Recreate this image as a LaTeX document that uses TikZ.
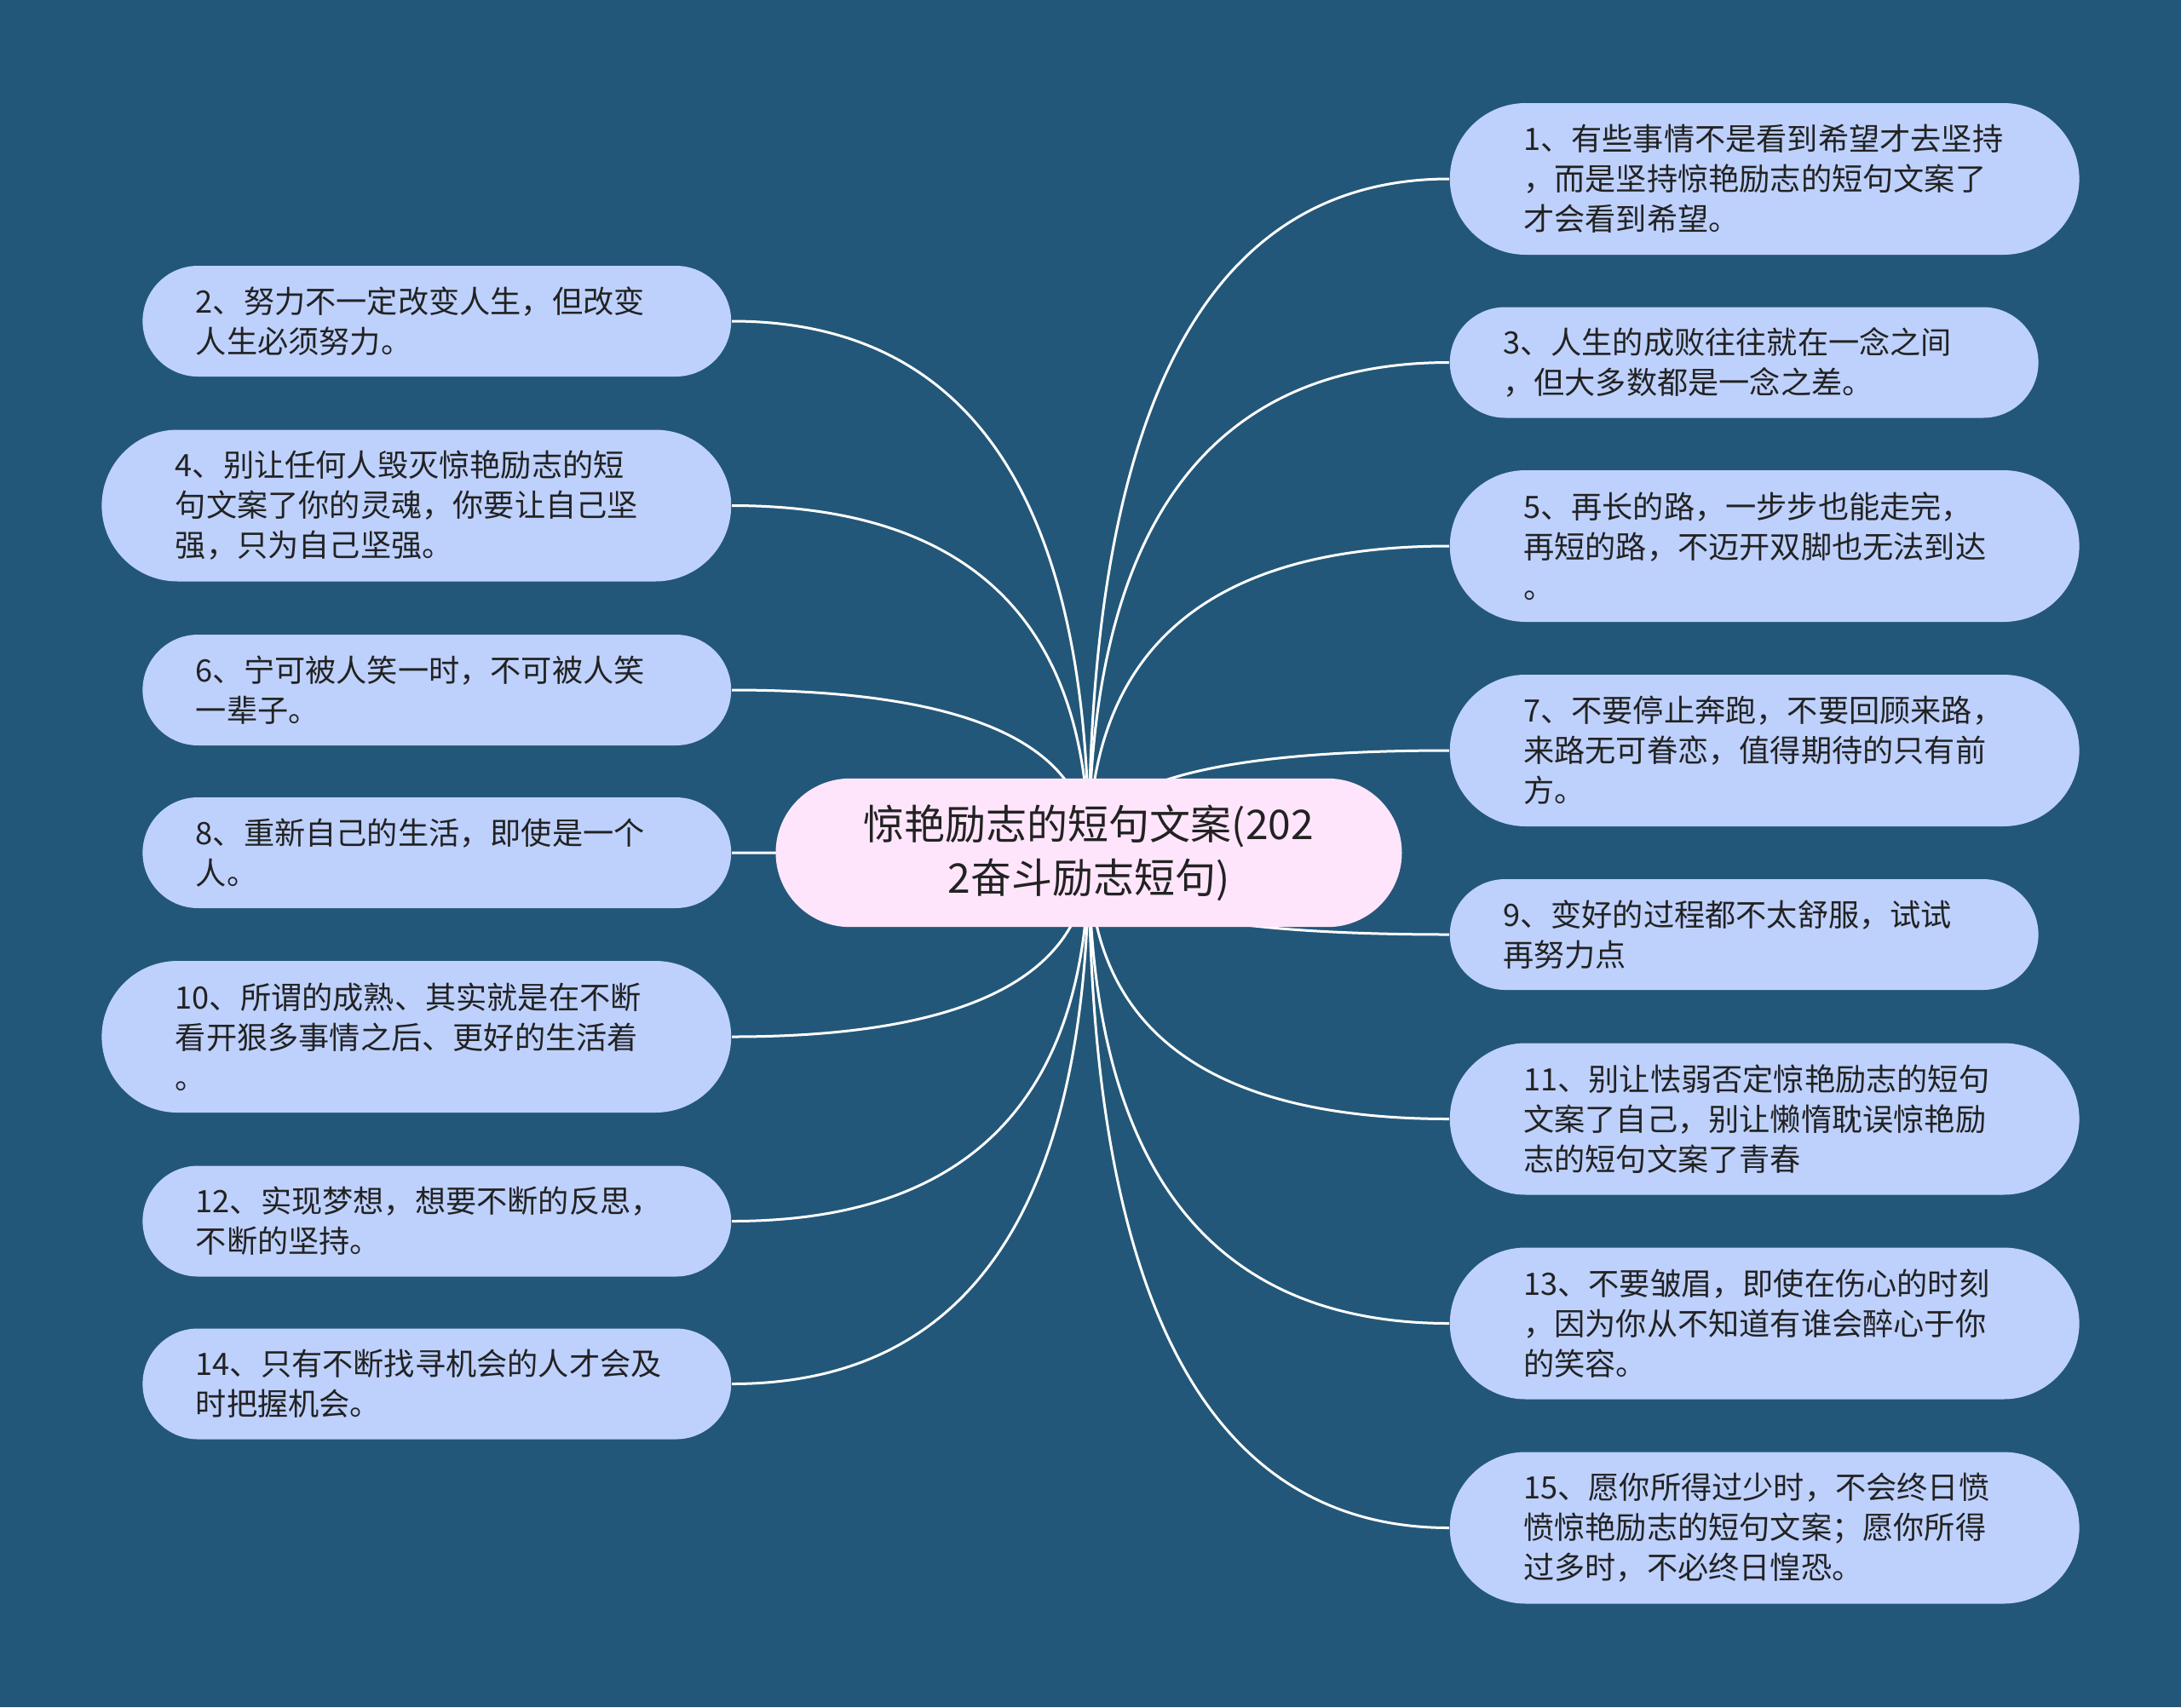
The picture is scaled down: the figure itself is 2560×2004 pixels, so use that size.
\documentclass[tikz,border=0pt]{standalone}
\usepackage{fontspec}
\setmainfont{Noto Sans CJK SC}
\usetikzlibrary{calc}
\pgfdeclarelayer{bg}
\pgfdeclarelayer{edges}
\pgfsetlayers{bg,edges,main}
\definecolor{bgc}{RGB}{35,87,121}
\definecolor{leafc}{RGB}{190,209,253}
\definecolor{rootc}{RGB}{255,229,251}
\definecolor{txtc}{RGB}{34,34,34}
\tikzset{
  leafbase/.style={fill=leafc, text=txtc, align=left, inner ysep=0pt,
    text width=141.5pt, font=\fontsize{9.05}{11.75}\selectfont},
  leaftwo/.style={leafbase, rounded corners=16.25pt, minimum height=32.5pt, inner xsep=15.6pt},
  leafthree/.style={leafbase, rounded corners=22.25pt, minimum height=44.5pt, inner xsep=21.6pt},
  rootbox/.style={fill=rootc, text=txtc, align=center, rounded corners=21.8pt,
    minimum width=183.75pt, minimum height=43.6pt, inner sep=0pt,
    font=\fontsize{12}{15.8}\selectfont},
  edge/.style={draw=white, line width=0.75pt}
}
\newcommand\mmlink[2]{\draw[edge] (c.center) .. controls ($(c.center)!0.6667!(c.center |- #1.#2)$) and ($(#1.#2)!0.6667!(c.center |- #1.#2)$) .. (#1.#2);}
\begin{document}
\begin{tikzpicture}[x=0.25pt,y=-0.25pt]
\begin{pgfonlayer}{bg}
\fill[bgc] (0,0) rectangle (2560,2004);
\end{pgfonlayer}
\useasboundingbox (0,0) rectangle (2560,2004);

\node[rootbox] (c) at (1278,1001) {惊艳励志的短句文案(202\\2奋斗励志短句)};

% left column
\node[leaftwo, anchor=east] (n2) at (859,377) {2、努力不一定改变人生，但改变\\人生必须努力。};
\node[leafthree, anchor=east] (n4) at (859,593.5) {4、别让任何人毁灭惊艳励志的短\\句文案了你的灵魂，你要让自己坚\\强，只为自己坚强。};
\node[leaftwo, anchor=east] (n6) at (859,810) {6、宁可被人笑一时，不可被人笑\\一辈子。};
\node[leaftwo, anchor=east] (n8) at (859,1001) {8、重新自己的生活，即使是一个\\人。};
\node[leafthree, anchor=east] (n10) at (859,1217) {10、所谓的成熟、其实就是在不断\\看开狠多事情之后、更好的生活着\\。};
\node[leaftwo, anchor=east] (n12) at (859,1433.5) {12、实现梦想，想要不断的反思，\\不断的坚持。};
\node[leaftwo, anchor=east] (n14) at (859,1624.5) {14、只有不断找寻机会的人才会及\\时把握机会。};

% right column
\node[leafthree, anchor=west] (n1) at (1701,210) {1、有些事情不是看到希望才去坚持\\，而是坚持惊艳励志的短句文案了\\才会看到希望。};
\node[leaftwo, anchor=west] (n3) at (1701,425.5) {3、人生的成败往往就在一念之间\\，但大多数都是一念之差。};
\node[leafthree, anchor=west] (n5) at (1701,641) {5、再长的路，一步步也能走完，\\再短的路，不迈开双脚也无法到达\\。};
\node[leafthree, anchor=west] (n7) at (1701,881) {7、不要停止奔跑，不要回顾来路，\\来路无可眷恋，值得期待的只有前\\方。};
\node[leaftwo, anchor=west] (n9) at (1701,1097) {9、变好的过程都不太舒服，试试\\再努力点};
\node[leafthree, anchor=west] (n11) at (1701,1313.5) {11、别让怯弱否定惊艳励志的短句\\文案了自己，别让懒惰耽误惊艳励\\志的短句文案了青春};
\node[leafthree, anchor=west] (n13) at (1701,1553.5) {13、不要皱眉，即使在伤心的时刻\\，因为你从不知道有谁会醉心于你\\的笑容。};
\node[leafthree, anchor=west] (n15) at (1701,1793.5) {15、愿你所得过少时，不会终日愤\\愤惊艳励志的短句文案；愿你所得\\过多时，不必终日惶恐。};

\begin{pgfonlayer}{edges}
\mmlink{n2}{east}
\mmlink{n4}{east}
\mmlink{n6}{east}
\mmlink{n8}{east}
\mmlink{n10}{east}
\mmlink{n12}{east}
\mmlink{n14}{east}
\mmlink{n1}{west}
\mmlink{n3}{west}
\mmlink{n5}{west}
\mmlink{n7}{west}
\mmlink{n9}{west}
\mmlink{n11}{west}
\mmlink{n13}{west}
\mmlink{n15}{west}
\end{pgfonlayer}
\end{tikzpicture}
\end{document}
